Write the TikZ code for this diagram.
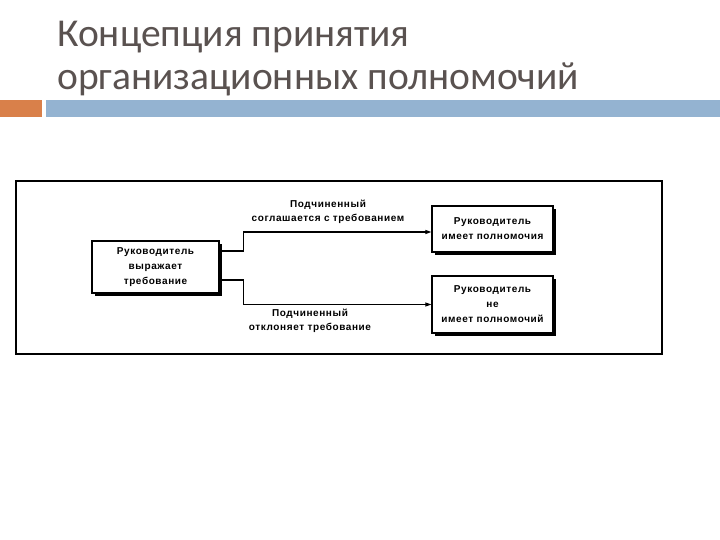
\documentclass[tikz,border=0pt]{standalone}
\usepackage{fontspec}
\setmainfont{Carlito}
\newfontfamily\diagfont[LetterSpace=6]{Liberation Sans}
\usetikzlibrary{positioning,arrows.meta,shadows}
\definecolor{TitleGray}{HTML}{5A5250}
\definecolor{BarOrange}{HTML}{D9804A}
\definecolor{BarBlue}{HTML}{94B3D1}

\begin{document}
\begin{tikzpicture}[
  x=1pt,y=-1pt,
  title/.style={anchor=base west,inner sep=0pt,font=\fontsize{39.5}{44}\selectfont,text=TitleGray},
  actor/.style={draw=black,line width=1.3pt,fill=white,align=center,
                inner sep=2pt,font=\diagfont\bfseries\fontsize{10}{15}\selectfont,
                general shadow={fill=black,shadow xshift=3pt,shadow yshift=-3pt}},
  note/.style={align=center,inner sep=1pt,font=\diagfont\bfseries\fontsize{10}{14.5}\selectfont},
  flow/.style={-{Triangle[length=6pt,width=4pt]},line width=1.1pt,draw=black}
]
\useasboundingbox (0,0) rectangle (720,540);

% Title and bars
\node[title] (line1) at (57,47) {Концепция принятия};
\node[title] (line2) at (57,90) {организационных полномочий};
\fill[BarOrange] (0,100) rectangle (42,117);
\fill[BarBlue] (46,100) rectangle (720,117);

% Frame
\draw[line width=1.8pt] (16,181) rectangle (662,354);

% Boxes
\node[actor,minimum width=127pt,minimum height=52pt] (lead) at (155.5,267)
  {Руководитель\\выражает\\требование};
\node[actor,minimum width=121pt,minimum height=46pt] (yes) at (492.5,229)
  {Руководитель\\имеет полномочия};
\node[actor,minimum width=121pt,minimum height=57pt] (no) at (492.5,304.5)
  {Руководитель\\не\\имеет полномочий};

% Connectors
\draw[flow] ([yshift=16pt]lead.east) -- ++(24,0) |- ([yshift=-3pt]yes.west);
\draw[flow] ([yshift=-13pt]lead.east) -- ++(24,0) |- (no.west);

\node[note] (agree) at (328,212) {Подчиненный\\соглашается с требованием};
\node[note] (refuse) at (310,321) {Подчиненный\\отклоняет требование};
\end{tikzpicture}
\end{document}
